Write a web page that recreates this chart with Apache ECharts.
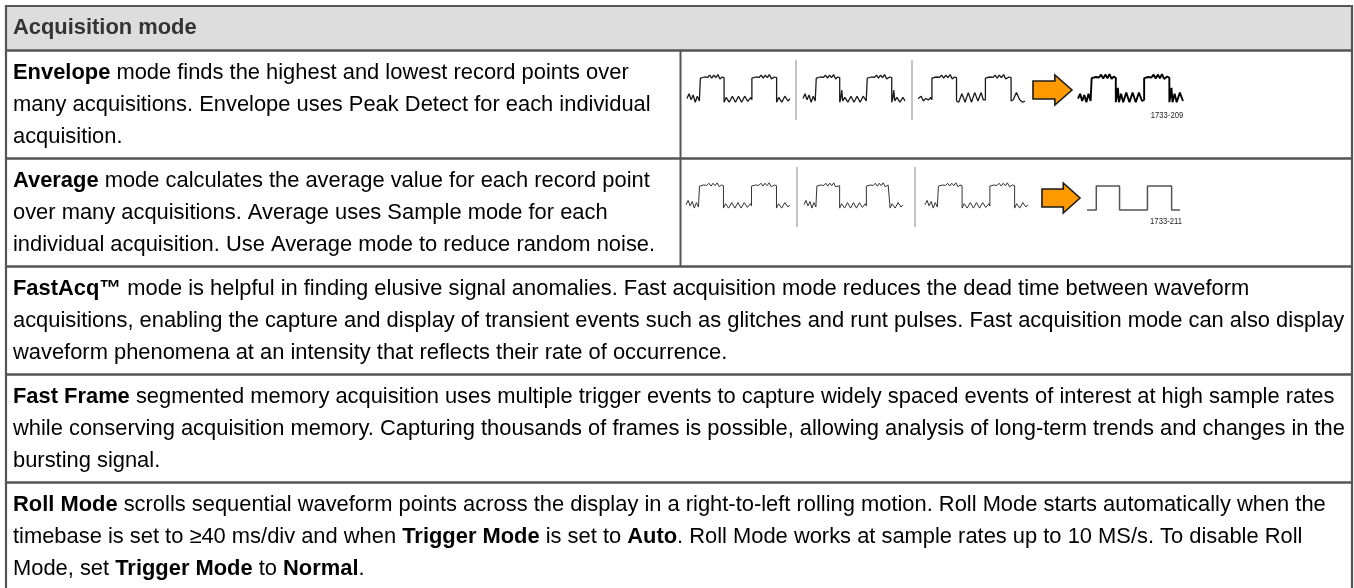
<!DOCTYPE html>
<html><head><meta charset="utf-8">
<script src="https://cdn.jsdelivr.net/npm/echarts@6/dist/echarts.min.js"></script>
<style>html,body{margin:0;padding:0;background:#fff}#c{width:1354px;height:588px}</style>
</head><body><div id="c"></div>
<script>
// ---------- content ----------
const headerTitle = 'Acquisition mode';
// each row: lines of text, **bold** segments
const rowEnvelope = [
  '**Envelope** mode finds the highest and lowest record points over',
  'many acquisitions. Envelope uses Peak Detect for each individual',
  'acquisition.'
];
const rowAverage = [
  '**Average** mode calculates the average value for each record point',
  'over many acquisitions. Average uses Sample mode for each',
  'individual acquisition. Use Average mode to reduce random noise.'
];
const rowFastAcq = [
  '**FastAcq™** mode is helpful in finding elusive signal anomalies. Fast acquisition mode reduces the dead time between waveform',
  'acquisitions, enabling the capture and display of transient events such as glitches and runt pulses. Fast acquisition mode can also display',
  'waveform phenomena at an intensity that reflects their rate of occurrence.'
];
const rowFastFrame = [
  '**Fast Frame** segmented memory acquisition uses multiple trigger events to capture widely spaced events of interest at high sample rates',
  'while conserving acquisition memory. Capturing thousands of frames is possible, allowing analysis of long-term trends and changes in the',
  'bursting signal.'
];
const rowRoll = [
  '**Roll Mode** scrolls sequential waveform points across the display in a right-to-left rolling motion. Roll Mode starts automatically when the',
  'timebase is set to ≥40 ms/div and when **Trigger Mode** is set to **Auto**. Roll Mode works at sample rates up to 10 MS/s. To disable Roll',
  'Mode, set **Trigger Mode** to **Normal**.'
];
const figureLabels = ['1733-209', '1733-211'];

// ---------- waveform samples [t, level] (t: 0..100, level 0 = low, 1 = high) ----------
const wfSampleA = [[0,0.1],[2,0.3],[4,0.05],[6,0.25],[8,-0.05],[10,0.2],[12,0.0],[13,0.05],[13,0.95],[17,1.0],[20,0.98],[22,1.08],[24,0.95],[26,1.08],[28,0.97],[30,1.1],[32,0.92],[34,1.0],[36,0.97],[36,-0.05],[38,0.15],[41,-0.05],[44,0.2],[47,-0.05],[50,0.2],[53,-0.05],[56,0.2],[59,-0.02],[62,0.15],[63,0.05],[63,0.95],[67,1.0],[70,0.98],[72,1.08],[74,0.95],[76,1.08],[78,0.97],[80,1.1],[82,0.92],[85,1.0],[87,0.97],[87,-0.05],[89,0.15],[92,-0.05],[95,0.2],[98,0.0],[100,0.1]];
const wfSampleB = [[0,0.1],[2,0.3],[4,0.05],[6,0.25],[8,-0.05],[10,0.2],[12,0.0],[13,0.05],[13,0.95],[17,1.0],[20,0.98],[22,1.08],[24,0.95],[26,1.08],[28,0.97],[30,1.1],[32,0.92],[34,1.0],[36,0.97],[36,-0.05],[37,0.1],[38,0.45],[39,0.0],[41,0.15],[44,-0.05],[47,0.2],[50,-0.05],[53,0.2],[56,-0.05],[59,0.2],[62,0.0],[63,0.05],[63,0.95],[67,1.0],[70,0.98],[72,1.08],[74,0.95],[76,1.08],[78,0.97],[80,1.1],[82,0.92],[85,1.0],[87,0.97],[87,-0.05],[88,0.1],[89,0.45],[90,0.0],[92,0.15],[95,-0.05],[98,0.15],[100,0.0]];
const wfSampleC = [[0,0.1],[3,0.2],[5,0.0],[7,0.1],[10,0.05],[12,0.15],[13,0.05],[13,0.95],[17,1.0],[20,0.98],[22,1.08],[24,0.95],[26,1.08],[28,0.97],[30,1.1],[32,0.92],[34,1.0],[36,0.97],[36,0.0],[38,-0.05],[41,0.3],[44,-0.05],[47,0.35],[50,-0.05],[53,0.35],[56,0.0],[59,0.35],[61,0.05],[63,0.05],[63,0.95],[67,1.0],[70,0.98],[72,1.08],[74,0.95],[76,1.08],[78,0.97],[80,1.1],[82,0.92],[85,1.0],[87,0.97],[87,0.0],[89,0.05],[92,0.35],[95,0.05],[98,-0.05],[100,0.0]];
const wfEnvelope = [[0,0.1],[2,0.3],[4,0.0],[6,0.25],[8,-0.05],[10,0.3],[12,0.0],[13,0.05],[13,0.95],[17,1.0],[20,0.98],[22,1.1],[24,0.93],[26,1.1],[28,0.95],[30,1.12],[32,0.92],[34,1.02],[36,0.97],[36,-0.05],[37,0.2],[38,0.55],[39,-0.05],[41,0.3],[43,-0.05],[46,0.35],[49,-0.05],[52,0.35],[55,-0.05],[58,0.35],[61,0.0],[63,0.05],[63,0.95],[67,1.0],[70,0.98],[72,1.1],[74,0.93],[76,1.1],[78,0.95],[80,1.12],[82,0.92],[85,1.02],[87,0.97],[87,-0.05],[88,0.2],[89,0.55],[90,-0.05],[92,0.3],[94,-0.05],[97,0.35],[100,0.0]];
const wfAverage = [[0,0],[10,0],[10,1],[35,1],[35,0],[65,0],[65,1],[91,1],[91,0],[100,0]];

// ---------- layout ----------
const FONT = '"Liberation Sans", Arial, Helvetica, sans-serif';
const TEXT_COLOR = '#333333';
const BORDER = '#555555';
const tableL = 6, tableR = 1352, tableT = 6;
const headerB = 50.5;
const rowH = 108;
const colX = 680.5;
const lineH = 32;
const textX = 13;
const FS = 21.9;

function rich(line) {
  const parts = line.split('**');
  let s = '';
  parts.forEach((p, i) => { if (p) s += '{' + (i % 2 ? 'b' : 'n') + '|' + p + '}'; });
  return s;
}
const richStyles = {
  n: { fontFamily: FONT, fontSize: FS, color: TEXT_COLOR },
  b: { fontFamily: FONT, fontSize: FS, color: TEXT_COLOR, fontWeight: 'bold' }
};

const rows = [rowEnvelope, rowAverage, rowFastAcq, rowFastFrame, rowRoll];
const graphics = [];
graphics.push({ type: 'rect', shape: { x: tableL, y: tableT, width: tableR - tableL, height: headerB - tableT }, style: { fill: '#dddddd' }, z: 0 });
graphics.push({ type: 'text', x: textX, y: 28, style: { text: headerTitle, font: 'bold ' + FS + 'px ' + FONT, fill: TEXT_COLOR, verticalAlign: 'middle' }, z: 5 });
graphics.push({ type: 'rect', shape: { x: tableL, y: tableT, width: tableR - tableL, height: 700 }, style: { fill: 'none', stroke: BORDER, lineWidth: 2.2 }, z: 4 });
rows.forEach((lines, r) => {
  const top = headerB + r * rowH;
  graphics.push({ type: 'line', shape: { x1: tableL, y1: top, x2: tableR, y2: top }, style: { stroke: BORDER, lineWidth: 2.4 }, z: 4 });
  lines.forEach((ln, i) => {
    graphics.push({ type: 'text', x: textX, y: top + 22 + i * lineH, style: { text: rich(ln), rich: richStyles, verticalAlign: 'middle', align: 'left' }, z: 5 });
  });
});
graphics.push({ type: 'line', shape: { x1: colX, y1: headerB, x2: colX, y2: headerB + 2 * rowH }, style: { stroke: BORDER, lineWidth: 2 }, z: 4 });
[[796, 60, 120], [912, 60, 120], [797, 167, 227], [915, 167, 227]].forEach(s => {
  graphics.push({ type: 'line', shape: { x1: s[0], y1: s[1], x2: s[0], y2: s[2] }, style: { stroke: '#c4c4c4', lineWidth: 2 }, z: 3 });
});
function arrow(x0, cy, w, h) {
  const bodyLen = w * 0.56, bodyH = h * 0.6;
  return [[x0, cy - bodyH / 2], [x0 + bodyLen, cy - bodyH / 2], [x0 + bodyLen, cy - h / 2], [x0 + w, cy], [x0 + bodyLen, cy + h / 2], [x0 + bodyLen, cy + bodyH / 2], [x0, cy + bodyH / 2]];
}
[[1033, 90, 39, 30], [1042, 198, 38, 30]].forEach(a => {
  graphics.push({ type: 'polygon', shape: { points: arrow(a[0], a[1], a[2], a[3]) }, style: { fill: '#ff9900', stroke: '#1a1a1a', lineWidth: 1.6 }, z: 6 });
});
[[1167, 116], [1166, 222]].forEach((p, i) => {
  graphics.push({ type: 'text', x: p[0], y: p[1], scaleX: 0.85, style: { text: figureLabels[i], font: '9px "Liberation Sans", Arial', fill: '#222', align: 'center', verticalAlign: 'middle' }, z: 6 });
});

const icons = [
  [687, 790, 77, 101, wfSampleA, '#1a1a1a', 1.3],
  [803, 905, 77, 101, wfSampleB, '#1a1a1a', 1.3],
  [918, 1025, 77, 101, wfSampleC, '#1a1a1a', 1.3],
  [1078, 1183, 77, 101, wfEnvelope, '#000000', 1.9],
  [686, 790, 185, 207, wfSampleA, '#333333', 1.0],
  [804, 903, 185, 207, wfSampleA, '#333333', 1.0],
  [925, 1028, 185, 207, wfSampleA, '#333333', 1.0],
  [1087, 1180, 186, 210, wfAverage, '#555555', 1.5]
];
const grid = [], xAxis = [], yAxis = [], series = [];
icons.forEach((ic, i) => {
  const unit = ic[3] - ic[2];
  grid.push({ left: ic[0], top: ic[2] - 0.5 * unit, width: ic[1] - ic[0], height: 2 * unit });
  xAxis.push({ type: 'value', gridIndex: i, min: 0, max: 100, show: false });
  yAxis.push({ type: 'value', gridIndex: i, min: -0.5, max: 1.5, show: false });
  series.push({ type: 'line', xAxisIndex: i, yAxisIndex: i, data: ic[4], showSymbol: false, symbol: 'none', clip: false, silent: true,
    lineStyle: { color: ic[5], width: ic[6] }, z: 6 });
});

const chart = echarts.init(document.getElementById('c'), null, { renderer: 'canvas' });
chart.setOption({
  backgroundColor: '#ffffff',
  animation: false,
  grid, xAxis, yAxis, series,
  graphic: { elements: graphics }
});
</script></body></html>
